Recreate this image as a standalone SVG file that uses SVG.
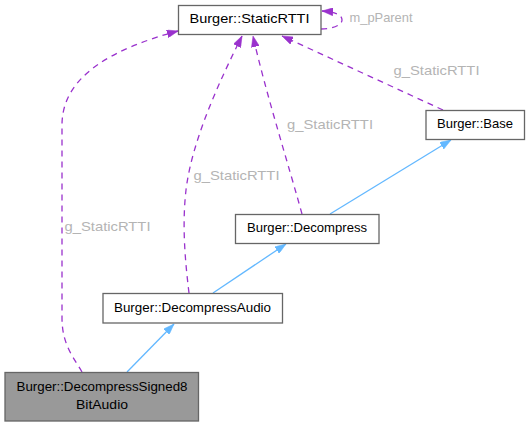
<svg xmlns="http://www.w3.org/2000/svg" width="530" height="427" viewBox="0 0 530 427">
<style>
.node rect{fill:#fff;stroke:#666;stroke-width:1.3}
.node.root rect{fill:#999}
.node text{font-family:"Liberation Sans",Arial,sans-serif;font-size:13px;fill:#000;text-anchor:middle}
.lbl{font-family:"Liberation Sans",Arial,sans-serif;font-size:13px;fill:#b4b4b4}
.dash{fill:none;stroke:#9a32cd;stroke-width:1.3;stroke-dasharray:6,5;marker-end:url(#ap)}
.inh{fill:none;stroke:#63b8ff;stroke-width:1.3;marker-end:url(#ab)}
</style>
<defs>
<marker id="ap" viewBox="0 0 11 8" refX="11" refY="4" markerWidth="11" markerHeight="8" markerUnits="userSpaceOnUse" orient="auto">
<path d="M0,0 L11,4 L0,8 z" fill="#9a32cd" stroke="#9a32cd" stroke-width="0.5"/>
</marker>
<marker id="ab" viewBox="0 0 11 8" refX="11" refY="4" markerWidth="11" markerHeight="8" markerUnits="userSpaceOnUse" orient="auto">
<path d="M0,0 L11,4 L0,8 z" fill="#63b8ff" stroke="#63b8ff" stroke-width="0.5"/>
</marker>
</defs>
<g id="edges">
<path class="dash" d="M82,372 C74,358 62,345 62,318 L62,125 C62,75 115,48 178,31"/>
<path class="dash" d="M189,293 C185,260 182,225 186,190 C192,140 220,80 242,36"/>
<path class="dash" d="M302,214 C290,170 265,90 253,36"/>
<path class="dash" d="M443,110 L282,36"/>
<path class="dash" d="M321,29 C333,29 342,25 342,20 C342,15 336,12 322,11"/>
<path class="inh" d="M127,372 L174,324"/>
<path class="inh" d="M213,293 L286,244"/>
<path class="inh" d="M330,214 L451,140"/>
<text class="lbl" x="349.5" y="22" textLength="63" lengthAdjust="spacingAndGlyphs">m_pParent</text>
<text class="lbl" x="393.5" y="75" textLength="86" lengthAdjust="spacingAndGlyphs">g_StaticRTTI</text>
<text class="lbl" x="287" y="128.5" textLength="86" lengthAdjust="spacingAndGlyphs">g_StaticRTTI</text>
<text class="lbl" x="193.5" y="180" textLength="86" lengthAdjust="spacingAndGlyphs">g_StaticRTTI</text>
<text class="lbl" x="64.5" y="231" textLength="86" lengthAdjust="spacingAndGlyphs">g_StaticRTTI</text>
</g>
<g id="node-StaticRTTI" class="node">
<rect x="178.5" y="5.5" width="142.5" height="29"/>
<text x="249.5" y="23" textLength="120" lengthAdjust="spacingAndGlyphs">Burger::StaticRTTI</text>
</g>
<g id="node-Base" class="node">
<rect x="426" y="110.5" width="98.5" height="29"/>
<text x="475" y="128" textLength="76" lengthAdjust="spacingAndGlyphs">Burger::Base</text>
</g>
<g id="node-Decompress" class="node">
<rect x="235.5" y="214.5" width="143.5" height="29"/>
<text x="307" y="232" textLength="120" lengthAdjust="spacingAndGlyphs">Burger::Decompress</text>
</g>
<g id="node-DecompressAudio" class="node">
<rect x="103" y="293.5" width="179.5" height="29.5"/>
<text x="192.5" y="311.5" textLength="157" lengthAdjust="spacingAndGlyphs">Burger::DecompressAudio</text>
</g>
<g id="node-DecompressSigned8BitAudio" class="node root">
<rect x="5" y="372.5" width="193.5" height="48.5"/>
<text x="102" y="390.5" textLength="171" lengthAdjust="spacingAndGlyphs">Burger::DecompressSigned8</text>
<text x="102" y="408.5" textLength="52" lengthAdjust="spacingAndGlyphs">BitAudio</text>
</g>
</svg>
